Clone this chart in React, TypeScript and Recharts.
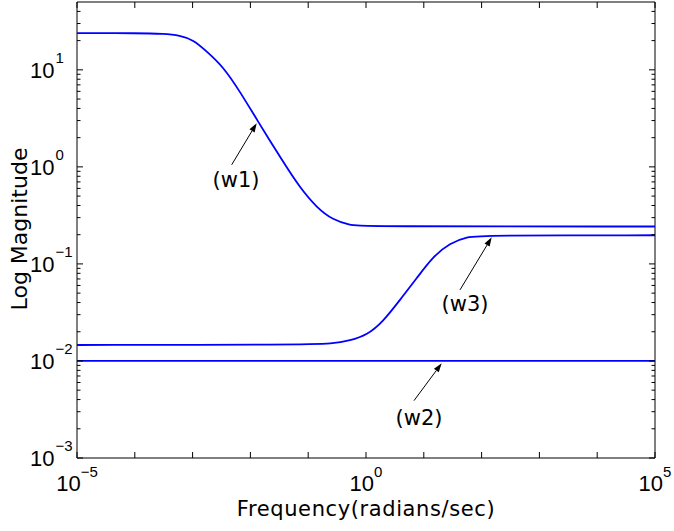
import React from 'react';
import {
  LineChart,
  Line,
  XAxis,
  YAxis,
  ReferenceArea,
  ReferenceLine,
  ReferenceDot
} from 'recharts';

// w1: high at low frequency, rolls off to a flat floor
const W1_FREQ = [1e-5, 1.2e-4, 3.16e-4, 6.05e-4, 1.02e-3, 1.77e-3, 3.36e-3, 6.6e-3, 0.013, 0.0366, 0.0721, 0.142, 0.268, 0.528, 0.787, 1e5];
const W1_MAG = [23.9, 23.9, 23.5, 22.6, 20.4, 15.4, 10.8, 5.97, 3.05, 1.13, 0.608, 0.378, 0.284, 0.252, 0.243, 0.243];

// w2: constant
const W2_FREQ = [1e-5, 1e5];
const W2_MAG = [0.01, 0.01];

// w3: low at low frequency, rises to a plateau
const W3_FREQ = [1e-5, 0.0721, 0.268, 0.528, 1.04, 1.97, 3.87, 7.62, 14.4, 28.4, 55.8, 106, 1e5];
const W3_MAG = [0.0146, 0.0147, 0.015, 0.0162, 0.0185, 0.0254, 0.0426, 0.0718, 0.119, 0.164, 0.19, 0.196, 0.1975];

const X_TICKS = [1e-5, 1e-4, 1e-3, 1e-2, 1e-1, 1, 10, 100, 1e3, 1e4, 1e5];
const X_LABELED = [-5, 0, 5];
const Y_TICKS = [
  0.001, 0.002, 0.003, 0.004, 0.005, 0.006, 0.007, 0.008, 0.009,
  0.01, 0.02, 0.03, 0.04, 0.05, 0.06, 0.07, 0.08, 0.09,
  0.1, 0.2, 0.3, 0.4, 0.5, 0.6, 0.7, 0.8, 0.9,
  1, 2, 3, 4, 5, 6, 7, 8, 9,
  10, 20, 30, 40
];

// annotations: label position and arrow tail -> head, in data units
const NOTE_LABELS = ['(w1)', '(w2)', '(w3)'];
const NOTE_TEXT_F = [5.64e-3, 8.26, 51.6];
const NOTE_TEXT_M = [0.743, 0.00265, 0.0398];
const NOTE_TAIL_F = [4.74e-3, 6.76, 42.3];
const NOTE_TAIL_M = [1.05, 0.0039, 0.054];
const NOTE_HEAD_F = [0.01285, 20.4, 149.6];
const NOTE_HEAD_M = [2.82, 0.00946, 0.188];

const zip = (f: number[], m: number[]) => f.map((v, i) => ({ f: v, m: m[i] }));
const w1 = zip(W1_FREQ, W1_MAG);
const w2 = zip(W2_FREQ, W2_MAG);
const w3 = zip(W3_FREQ, W3_MAG);

const W = 674;
const H = 531;
const LEFT = 77;
const RIGHT = 655;
const TOP = 2;
const BOTTOM = 458;
const TICK_FONT = '"Liberation Sans", Arial, sans-serif';
const TITLE_FONT = '"DejaVu Sans", sans-serif';
const BLUE = '#0000ff';

const expText = (e: number) => (e < 0 ? '\u2212' + Math.abs(e) : String(e));

function XTick(props: any) {
  const { x, payload } = props;
  const e = Math.round(Math.log10(payload.value));
  return (
    <g>
      <line x1={x} x2={x} y1={BOTTOM} y2={BOTTOM - 6} stroke="#000" />
      <line x1={x} x2={x} y1={TOP} y2={TOP + 6} stroke="#000" />
      {X_LABELED.includes(e) && (
        <text x={x} y={491} textAnchor="middle" fontFamily={TICK_FONT} fontSize={22} fill="#000">
          <tspan>10</tspan>
          <tspan dy={-14} fontSize={15}>{expText(e)}</tspan>
        </text>
      )}
    </g>
  );
}

function YTick(props: any) {
  const { y, payload } = props;
  const lg = Math.log10(payload.value);
  const e = Math.round(lg);
  const major = Math.abs(lg - e) < 1e-6;
  const len = major ? 6 : 3.5;
  return (
    <g>
      <line x1={LEFT} x2={LEFT + len} y1={y} y2={y} stroke="#000" />
      <line x1={RIGHT} x2={RIGHT - len} y1={y} y2={y} stroke="#000" />
      {major && (
        <g fontFamily={TICK_FONT} fill="#000">
          <text x={54.5} y={y + 8} textAnchor="end" fontSize={22}>10</text>
          <text x={55.5} y={y - 7} fontSize={15}>{expText(e)}</text>
        </g>
      )}
    </g>
  );
}

function XTitle() {
  return (
    <text x={(LEFT + RIGHT) / 2} y={516} textAnchor="middle" fontFamily={TITLE_FONT} fontSize={21} letterSpacing={0.6} fill="#000">
      Frequency(radians/sec)
    </text>
  );
}

function YTitle() {
  return (
    <text x={27} y={229} transform="rotate(-90 27 229)" textAnchor="middle" fontFamily={TITLE_FONT} fontSize={22} fill="#000">
      Log Magnitude
    </text>
  );
}

function Arrow(props: any) {
  const { x1, y1, x2, y2 } = props;
  const a = Math.atan2(y2 - y1, x2 - x1);
  const L = 9;
  const hw = 3;
  const bx = x2 - L * Math.cos(a);
  const by = y2 - L * Math.sin(a);
  const px = -Math.sin(a) * hw;
  const py = Math.cos(a) * hw;
  return (
    <g>
      <line x1={x1} y1={y1} x2={bx} y2={by} stroke="#000" strokeWidth={1} />
      <polygon points={`${x2},${y2} ${bx + px},${by + py} ${bx - px},${by - py}`} fill="#000" />
    </g>
  );
}

export default function App() {
  return (
    <div style={{ position: 'absolute', left: 0, top: 0, width: W, height: H, background: '#fff' }}>
      <LineChart width={W} height={H} margin={{ top: TOP, right: W - RIGHT, bottom: 0, left: 0 }}>
        <XAxis
          dataKey="f"
          type="number"
          scale="log"
          domain={[1e-5, 1e5]}
          allowDataOverflow
          ticks={X_TICKS}
          interval={0}
          tick={<XTick />}
          tickLine={false}
          axisLine={false}
          height={H - BOTTOM}
          label={<XTitle />}
        />
        <YAxis
          type="number"
          scale="log"
          domain={[1e-3, 50]}
          allowDataOverflow
          ticks={Y_TICKS}
          interval={0}
          tick={<YTick />}
          tickLine={false}
          axisLine={false}
          width={LEFT}
          label={<YTitle />}
        />
        <ReferenceArea x1={1e-5} x2={1e5} y1={1e-3} y2={50} fill="none" stroke="#000" strokeWidth={1} ifOverflow="visible" />
        <Line data={w1} dataKey="m" type="basis" stroke={BLUE} strokeWidth={1.8} dot={false} isAnimationActive={false} />
        <Line data={w2} dataKey="m" type="linear" stroke={BLUE} strokeWidth={1.8} dot={false} isAnimationActive={false} />
        <Line data={w3} dataKey="m" type="basis" stroke={BLUE} strokeWidth={1.8} dot={false} isAnimationActive={false} />
        {NOTE_LABELS.map((label, i) => (
          <ReferenceLine
            key={'a' + i}
            segment={[
              { x: NOTE_TAIL_F[i], y: NOTE_TAIL_M[i] },
              { x: NOTE_HEAD_F[i], y: NOTE_HEAD_M[i] }
            ]}
            ifOverflow="visible"
            shape={(p: any) => <Arrow {...p} />}
          />
        ))}
        {NOTE_LABELS.map((label, i) => (
          <ReferenceDot
            key={'t' + i}
            x={NOTE_TEXT_F[i]}
            y={NOTE_TEXT_M[i]}
            r={0}
            ifOverflow="visible"
            shape={(p: any) => (
              <text x={p.cx} y={p.cy} dy={8} textAnchor="middle" fontFamily={TITLE_FONT} fontSize={21} fill="#000">
                {label}
              </text>
            )}
          />
        ))}
      </LineChart>
    </div>
  );
}
